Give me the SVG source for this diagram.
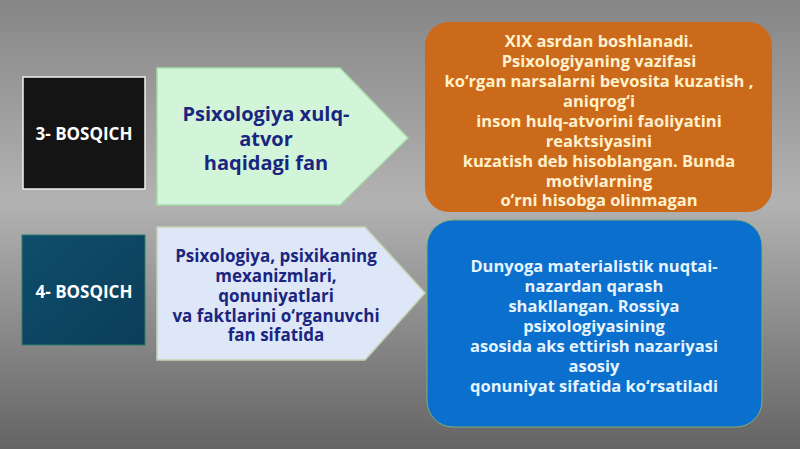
<svg xmlns="http://www.w3.org/2000/svg" width="800" height="449" viewBox="0 0 800 449">
<defs>
<linearGradient id="bg" x1="0" y1="0" x2="0" y2="1">
<stop offset="0" stop-color="#868686"/>
<stop offset="0.45" stop-color="#b2b2b2"/>
<stop offset="1" stop-color="#646464"/>
</linearGradient>
<linearGradient id="teal" x1="0" y1="0" x2="1" y2="1">
<stop offset="0" stop-color="#0e4e6c"/>
<stop offset="1" stop-color="#0b3d58"/>
</linearGradient>
<style>
.t{font-family:"Open Sans","Noto Sans","DejaVu Sans",sans-serif;font-weight:bold;text-anchor:middle;dominant-baseline:central}
.lbl{fill:#ffffff;font-size:17px}
.nv{fill:#1b2580}
.or{fill:#fff1cc;font-size:16.5px}
.bl{fill:#e6f4ff;font-size:16.5px}
</style>
</defs>
<rect width="800" height="449" fill="url(#bg)"/>
<g id="connectors"/>
<g id="stage3">
<rect x="23" y="77" width="122" height="112" fill="#141414" stroke="#f0f0f0" stroke-width="1.5"/>
<text class="t lbl" x="84" y="133">3- BOSQICH</text>
</g>
<g id="stage3-desc">
<polygon points="157,68 340,68 408,138 340,205 157,205" fill="#d2f5da" stroke="#a6dba8" stroke-width="1.5"/>
<text class="t nv" font-size="20" x="266" y="113">Psixologiya xulq-</text>
<text class="t nv" font-size="20" x="266" y="138">atvor</text>
<text class="t nv" font-size="20" x="266" y="162">haqidagi fan</text>
</g>
<g id="stage4">
<rect x="22" y="235" width="123" height="110" fill="url(#teal)" stroke="#2f7d6a" stroke-width="1"/>
<text class="t lbl" x="84" y="291">4- BOSQICH</text>
</g>
<g id="stage4-desc">
<polygon points="157,227 365,227 425,293 365,360 157,360" fill="#dde7f8" stroke="#c5d3b0" stroke-width="1.5"/>
<text class="t nv" font-size="17" x="276" y="255">Psixologiya, psixikaning</text>
<text class="t nv" font-size="17" x="276" y="275">mexanizmlari,</text>
<text class="t nv" font-size="17" x="276" y="295">qonuniyatlari</text>
<text class="t nv" font-size="17" x="276" y="315">va faktlarini o‘rganuvchi</text>
<text class="t nv" font-size="17" x="276" y="334">fan sifatida</text>
</g>
<g id="stage3-detail">
<rect x="425" y="22" width="347" height="190" rx="24" fill="#cc6a1c"/>
<text class="t or" x="599" y="40">XIX asrdan boshlanadi.</text>
<text class="t or" x="599" y="60">Psixologiyaning vazifasi</text>
<text class="t or" x="599" y="80">ko‘rgan narsalarni bevosita kuzatish ,</text>
<text class="t or" x="599" y="100">aniqrog‘i</text>
<text class="t or" x="599" y="120">inson hulq-atvorini faoliyatini</text>
<text class="t or" x="599" y="140">reaktsiyasini</text>
<text class="t or" x="599" y="160">kuzatish deb hisoblangan. Bunda</text>
<text class="t or" x="599" y="180">motivlarning</text>
<text class="t or" x="599" y="199">o‘rni hisobga olinmagan</text>
</g>
<g id="stage4-detail">
<rect x="427" y="220" width="335" height="207" rx="26" fill="#0b6fce" stroke="#7fae7a" stroke-width="1"/>
<text class="t bl" x="594" y="265">Dunyoga materialistik nuqtai-</text>
<text class="t bl" x="594" y="285">nazardan qarash</text>
<text class="t bl" x="594" y="305">shakllangan. Rossiya</text>
<text class="t bl" x="594" y="325">psixologiyasining</text>
<text class="t bl" x="594" y="345">asosida aks ettirish nazariyasi</text>
<text class="t bl" x="594" y="365">asosiy</text>
<text class="t bl" x="594" y="385">qonuniyat sifatida ko‘rsatiladi</text>
</g>
</svg>
